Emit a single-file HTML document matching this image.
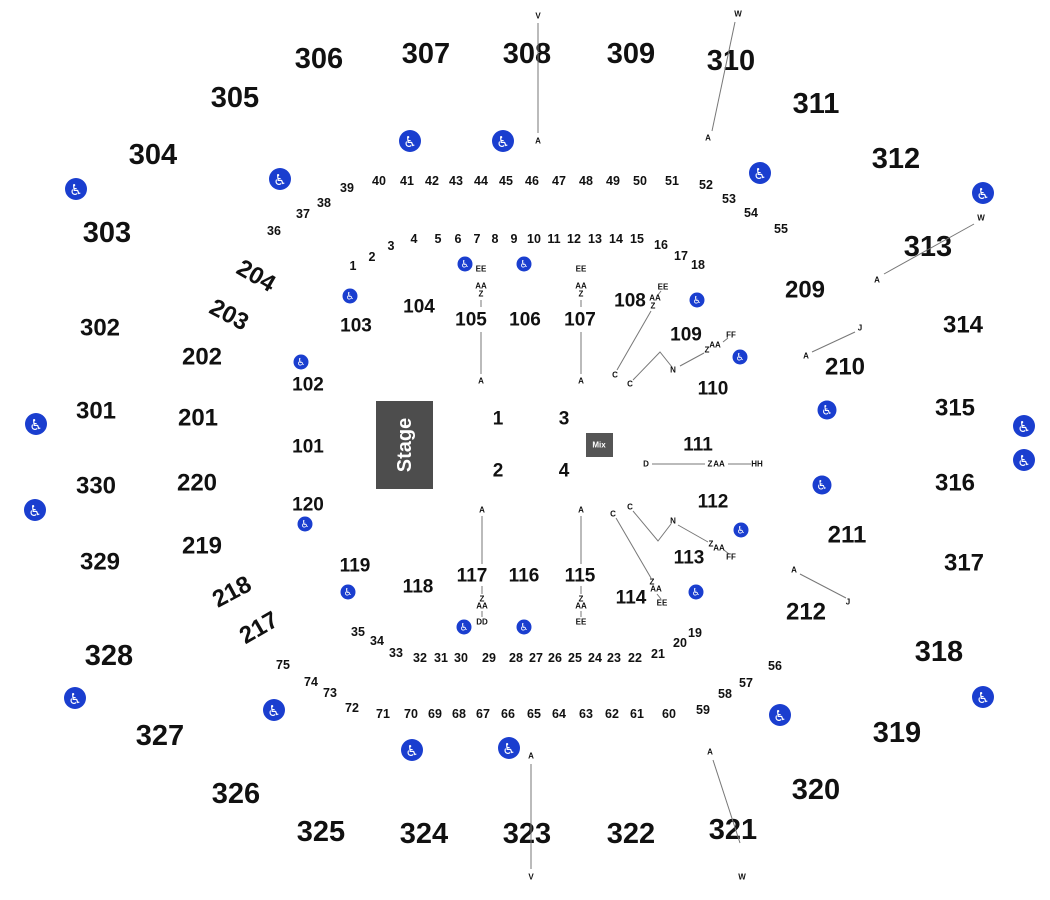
<!DOCTYPE html>
<html><head><meta charset="utf-8"><style>
html,body{margin:0;padding:0;background:#fff}
svg{display:block}
text{font-family:"Liberation Sans",sans-serif;font-weight:bold;fill:#111;text-anchor:middle;dominant-baseline:central}
.b{font-size:29px}.m{font-size:24px}.s{font-size:19px}.r{font-size:12.5px}.t{font-size:8px}
.w{fill:#fff;font-family:"DejaVu Sans",sans-serif;font-weight:normal}
line,polyline{stroke:#777;stroke-width:1;fill:none}
circle{fill:#1a3ecf}
</style></head><body>
<svg width="1050" height="900" viewBox="0 0 1050 900" xmlns="http://www.w3.org/2000/svg">
<!-- 300 level -->
<g class="b">
<text class="b" x="319" y="59">306</text><text class="b" x="426" y="54">307</text><text class="b" x="527" y="54">308</text><text class="b" x="631" y="54">309</text><text class="b" x="731" y="61">310</text><text class="b" x="816" y="104">311</text><text class="b" x="896" y="159">312</text><text class="b" x="928" y="247">313</text><text class="m" x="963" y="325">314</text><text class="m" x="955" y="408">315</text><text class="m" x="955" y="483">316</text><text class="m" x="964" y="563">317</text><text class="b" x="939" y="652">318</text><text class="b" x="897" y="733">319</text><text class="b" x="816" y="790">320</text><text class="b" x="733" y="830">321</text><text class="b" x="631" y="834">322</text><text class="b" x="527" y="834">323</text><text class="b" x="424" y="834">324</text><text class="b" x="321" y="832">325</text><text class="b" x="236" y="794">326</text><text class="b" x="160" y="736">327</text><text class="b" x="109" y="656">328</text><text class="m" x="100" y="562">329</text><text class="m" x="96" y="486">330</text><text class="m" x="96" y="411">301</text><text class="m" x="100" y="328">302</text><text class="b" x="107" y="233">303</text><text class="b" x="153" y="155">304</text><text class="b" x="235" y="98">305</text>
</g>
<!-- 200 level -->
<text class="m" x="256" y="276" transform="rotate(30 256 276)">204</text>
<text class="m" x="229" y="315" transform="rotate(28 229 315)">203</text>
<text class="m" x="202" y="357">202</text><text class="m" x="198" y="418">201</text><text class="m" x="197" y="483">220</text><text class="m" x="202" y="546">219</text>
<text class="m" x="232" y="592" transform="rotate(-28 232 592)">218</text>
<text class="m" x="259" y="628" transform="rotate(-30 259 628)">217</text>
<text class="m" x="805" y="290">209</text><text class="m" x="845" y="367">210</text><text class="m" x="847" y="535">211</text><text class="m" x="806" y="612">212</text>
<!-- 100 level -->
<text class="s" x="356" y="326">103</text><text class="s" x="419" y="307">104</text><text class="s" x="471" y="320">105</text><text class="s" x="525" y="320">106</text><text class="s" x="580" y="320">107</text><text class="s" x="630" y="301">108</text><text class="s" x="686" y="335">109</text><text class="s" x="713" y="389">110</text><text class="s" x="698" y="445">111</text><text class="s" x="713" y="502">112</text><text class="s" x="689" y="558">113</text><text class="s" x="631" y="598">114</text><text class="s" x="580" y="576">115</text><text class="s" x="524" y="576">116</text><text class="s" x="472" y="576">117</text><text class="s" x="418" y="587">118</text><text class="s" x="355" y="566">119</text><text class="s" x="308" y="505">120</text><text class="s" x="308" y="447">101</text><text class="s" x="308" y="385">102</text>
<!-- floor -->
<text class="s" x="498" y="419">1</text><text class="s" x="564" y="419">3</text><text class="s" x="498" y="471">2</text><text class="s" x="564" y="471">4</text>
<rect x="376" y="401" width="57" height="88" fill="#4d4d4d"/>
<text x="405" y="445" transform="rotate(-90 405 445)" style="fill:#fff;font-size:20px">Stage</text>
<rect x="586" y="433" width="27" height="24" fill="#555"/>
<text x="599" y="445" style="fill:#fff;font-size:8px">Mix</text>
<!-- rows -->
<g>
<text class="r" x="353" y="266">1</text><text class="r" x="372" y="257">2</text><text class="r" x="391" y="246">3</text><text class="r" x="414" y="239">4</text><text class="r" x="438" y="239">5</text><text class="r" x="458" y="239">6</text><text class="r" x="477" y="239">7</text><text class="r" x="495" y="239">8</text><text class="r" x="514" y="239">9</text><text class="r" x="534" y="239">10</text><text class="r" x="554" y="239">11</text><text class="r" x="574" y="239">12</text><text class="r" x="595" y="239">13</text><text class="r" x="616" y="239">14</text><text class="r" x="637" y="239">15</text><text class="r" x="661" y="245">16</text><text class="r" x="681" y="256">17</text><text class="r" x="698" y="265">18</text>
<text class="r" x="274" y="231">36</text><text class="r" x="303" y="214">37</text><text class="r" x="324" y="203">38</text><text class="r" x="347" y="188">39</text><text class="r" x="379" y="181">40</text><text class="r" x="407" y="181">41</text><text class="r" x="432" y="181">42</text><text class="r" x="456" y="181">43</text><text class="r" x="481" y="181">44</text><text class="r" x="506" y="181">45</text><text class="r" x="532" y="181">46</text><text class="r" x="559" y="181">47</text><text class="r" x="586" y="181">48</text><text class="r" x="613" y="181">49</text><text class="r" x="640" y="181">50</text><text class="r" x="672" y="181">51</text><text class="r" x="706" y="185">52</text><text class="r" x="729" y="199">53</text><text class="r" x="751" y="213">54</text><text class="r" x="781" y="229">55</text>
<text class="r" x="358" y="632">35</text><text class="r" x="377" y="641">34</text><text class="r" x="396" y="653">33</text><text class="r" x="420" y="658">32</text><text class="r" x="441" y="658">31</text><text class="r" x="461" y="658">30</text><text class="r" x="489" y="658">29</text><text class="r" x="516" y="658">28</text><text class="r" x="536" y="658">27</text><text class="r" x="555" y="658">26</text><text class="r" x="575" y="658">25</text><text class="r" x="595" y="658">24</text><text class="r" x="614" y="658">23</text><text class="r" x="635" y="658">22</text><text class="r" x="658" y="654">21</text><text class="r" x="680" y="643">20</text><text class="r" x="695" y="633">19</text>
<text class="r" x="283" y="665">75</text><text class="r" x="311" y="682">74</text><text class="r" x="330" y="693">73</text><text class="r" x="352" y="708">72</text><text class="r" x="383" y="714">71</text><text class="r" x="411" y="714">70</text><text class="r" x="435" y="714">69</text><text class="r" x="459" y="714">68</text><text class="r" x="483" y="714">67</text><text class="r" x="508" y="714">66</text><text class="r" x="534" y="714">65</text><text class="r" x="559" y="714">64</text><text class="r" x="586" y="714">63</text><text class="r" x="612" y="714">62</text><text class="r" x="637" y="714">61</text><text class="r" x="669" y="714">60</text><text class="r" x="703" y="710">59</text><text class="r" x="725" y="694">58</text><text class="r" x="746" y="683">57</text><text class="r" x="775" y="666">56</text>
</g>
<!-- connector lines -->
<line x1="538" y1="23" x2="538" y2="133"/><line x1="735" y1="22" x2="712" y2="131"/>
<line x1="974" y1="224" x2="884" y2="274"/><line x1="855" y1="332" x2="812" y2="352"/>
<line x1="800" y1="574" x2="846" y2="598"/><line x1="713" y1="760" x2="740" y2="843"/>
<line x1="531" y1="764" x2="531" y2="869"/>
<line x1="481" y1="300" x2="481" y2="307"/><line x1="481" y1="332" x2="481" y2="374"/>
<line x1="581" y1="300" x2="581" y2="307"/><line x1="581" y1="332" x2="581" y2="374"/>
<line x1="661" y1="291" x2="657" y2="296"/><line x1="651" y1="311" x2="617" y2="370"/>
<polyline points="633,380 660,352 672,367"/><line x1="680" y1="366" x2="704" y2="353"/><line x1="723" y1="342" x2="728" y2="338"/>
<line x1="652" y1="464" x2="705" y2="464"/><line x1="728" y1="464" x2="751" y2="464"/>
<polyline points="633,511 658,541 671,524"/><line x1="678" y1="525" x2="708" y2="542"/><line x1="724" y1="550" x2="729" y2="554"/>
<line x1="616" y1="518" x2="651" y2="578"/><line x1="657" y1="594" x2="661" y2="599"/>
<line x1="482" y1="516" x2="482" y2="564"/><line x1="482" y1="586" x2="482" y2="594"/><line x1="482" y1="611" x2="482" y2="617"/>
<line x1="581" y1="516" x2="581" y2="564"/><line x1="581" y1="586" x2="581" y2="594"/><line x1="581" y1="611" x2="581" y2="617"/>
<!-- tiny labels -->
<g class="t">
<text class="t" x="538" y="16">V</text><text class="t" x="538" y="141">A</text>
<text class="t" x="738" y="14">W</text><text class="t" x="708" y="138">A</text>
<text class="t" x="981" y="218">W</text><text class="t" x="877" y="280">A</text>
<text class="t" x="860" y="328">J</text><text class="t" x="806" y="356">A</text>
<text class="t" x="794" y="570">A</text><text class="t" x="848" y="602">J</text>
<text class="t" x="710" y="752">A</text><text class="t" x="742" y="877">W</text>
<text class="t" x="531" y="756">A</text><text class="t" x="531" y="877">V</text>
<text class="t" x="481" y="269">EE</text><text class="t" x="481" y="286">AA</text><text class="t" x="481" y="294">Z</text><text class="t" x="481" y="381">A</text>
<text class="t" x="581" y="269">EE</text><text class="t" x="581" y="286">AA</text><text class="t" x="581" y="294">Z</text><text class="t" x="581" y="381">A</text>
<text class="t" x="663" y="287">EE</text><text class="t" x="655" y="298">AA</text><text class="t" x="653" y="306">Z</text><text class="t" x="615" y="375">C</text>
<text class="t" x="630" y="384">C</text><text class="t" x="673" y="370">N</text><text class="t" x="707" y="350">Z</text><text class="t" x="715" y="345">AA</text><text class="t" x="731" y="335">FF</text>
<text class="t" x="646" y="464">D</text><text class="t" x="710" y="464">Z</text><text class="t" x="719" y="464">AA</text><text class="t" x="757" y="464">HH</text>
<text class="t" x="630" y="507">C</text><text class="t" x="673" y="521">N</text><text class="t" x="711" y="544">Z</text><text class="t" x="719" y="548">AA</text><text class="t" x="731" y="557">FF</text>
<text class="t" x="613" y="514">C</text><text class="t" x="652" y="582">Z</text><text class="t" x="656" y="589">AA</text><text class="t" x="662" y="603">EE</text>
<text class="t" x="482" y="510">A</text><text class="t" x="482" y="599">Z</text><text class="t" x="482" y="606">AA</text><text class="t" x="482" y="622">DD</text>
<text class="t" x="581" y="510">A</text><text class="t" x="581" y="599">Z</text><text class="t" x="581" y="606">AA</text><text class="t" x="581" y="622">EE</text>
</g>
<!-- accessible icons large -->
<g>
<circle cx="410" cy="141" r="11"/><text class="w" x="410" y="142" style="font-size:15px">♿</text>
<circle cx="503" cy="141" r="11"/><text class="w" x="503" y="142" style="font-size:15px">♿</text>
<circle cx="280" cy="179" r="11"/><text class="w" x="280" y="180" style="font-size:15px">♿</text>
<circle cx="760" cy="173" r="11"/><text class="w" x="760" y="174" style="font-size:15px">♿</text>
<circle cx="76" cy="189" r="11"/><text class="w" x="76" y="190" style="font-size:15px">♿</text>
<circle cx="983" cy="193" r="11"/><text class="w" x="983" y="194" style="font-size:15px">♿</text>
<circle cx="36" cy="424" r="11"/><text class="w" x="36" y="425" style="font-size:15px">♿</text>
<circle cx="1024" cy="426" r="11"/><text class="w" x="1024" y="427" style="font-size:15px">♿</text>
<circle cx="1024" cy="460" r="11"/><text class="w" x="1024" y="461" style="font-size:15px">♿</text>
<circle cx="35" cy="510" r="11"/><text class="w" x="35" y="511" style="font-size:15px">♿</text>
<circle cx="75" cy="698" r="11"/><text class="w" x="75" y="699" style="font-size:15px">♿</text>
<circle cx="274" cy="710" r="11"/><text class="w" x="274" y="711" style="font-size:15px">♿</text>
<circle cx="983" cy="697" r="11"/><text class="w" x="983" y="698" style="font-size:15px">♿</text>
<circle cx="780" cy="715" r="11"/><text class="w" x="780" y="716" style="font-size:15px">♿</text>
<circle cx="412" cy="750" r="11"/><text class="w" x="412" y="751" style="font-size:15px">♿</text>
<circle cx="509" cy="748" r="11"/><text class="w" x="509" y="749" style="font-size:15px">♿</text>
<circle cx="827" cy="410" r="9.5"/><text class="w" x="827" y="411" style="font-size:13px">♿</text>
<circle cx="822" cy="485" r="9.5"/><text class="w" x="822" y="486" style="font-size:13px">♿</text>
</g>
<!-- small icons -->
<g>
<circle cx="465" cy="264" r="7.5"/><text class="w" x="465" y="265" style="font-size:10px">♿</text>
<circle cx="524" cy="264" r="7.5"/><text class="w" x="524" y="265" style="font-size:10px">♿</text>
<circle cx="350" cy="296" r="7.5"/><text class="w" x="350" y="297" style="font-size:10px">♿</text>
<circle cx="697" cy="300" r="7.5"/><text class="w" x="697" y="301" style="font-size:10px">♿</text>
<circle cx="301" cy="362" r="7.5"/><text class="w" x="301" y="363" style="font-size:10px">♿</text>
<circle cx="740" cy="357" r="7.5"/><text class="w" x="740" y="358" style="font-size:10px">♿</text>
<circle cx="305" cy="524" r="7.5"/><text class="w" x="305" y="525" style="font-size:10px">♿</text>
<circle cx="741" cy="530" r="7.5"/><text class="w" x="741" y="531" style="font-size:10px">♿</text>
<circle cx="348" cy="592" r="7.5"/><text class="w" x="348" y="593" style="font-size:10px">♿</text>
<circle cx="696" cy="592" r="7.5"/><text class="w" x="696" y="593" style="font-size:10px">♿</text>
<circle cx="464" cy="627" r="7.5"/><text class="w" x="464" y="628" style="font-size:10px">♿</text>
<circle cx="524" cy="627" r="7.5"/><text class="w" x="524" y="628" style="font-size:10px">♿</text>
</g>
</svg>
</body></html>
